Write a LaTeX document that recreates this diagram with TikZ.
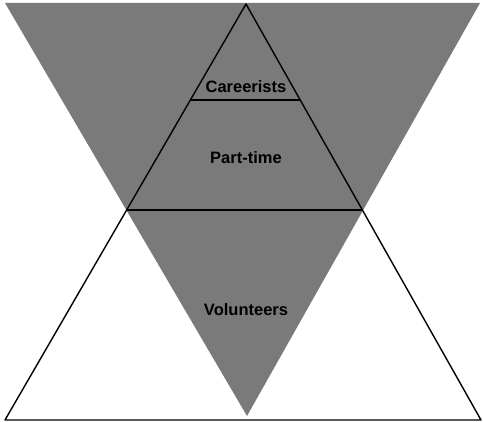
\documentclass[tikz,border=0pt]{standalone}
\usepackage{fontspec}
\setmainfont{Liberation Sans}
\usepackage{tikz}
\usetikzlibrary{calc}

\begin{document}
\begin{tikzpicture}[x=1pt,y=1pt,
  shade/.style={fill=black!52,draw=none},
  edge/.style={draw=black,line width=1.4pt,line join=round},
  tier/.style={font=\bfseries\fontsize{16.5}{18}\selectfont,inner sep=1pt}]
  \useasboundingbox (0,0) rectangle (483,422);
  \coordinate (tl) at (5,419);
  \coordinate (tr) at (480,419);
  \coordinate (tip) at (247,6);
  \coordinate (apex) at (246,418);
  \coordinate (bl) at (5,2);
  \coordinate (br) at (481,2);
  \fill[shade] (tl)--(tr)--(tip)--cycle;
  \draw[edge] (apex)--(bl)--(br)--cycle;
  \draw[edge] ($(apex)!0.231!(bl)$)--($(apex)!0.231!(br)$);
  \draw[edge] ($(apex)!0.495!(bl)$)--($(apex)!0.495!(br)$);
  \node[tier] (careerists) at (246,335) {Careerists};
  \node[tier] (parttime) at (246,264) {Part-time};
  \node[tier] (volunteers) at (246,112) {Volunteers};
\end{tikzpicture}
\end{document}
